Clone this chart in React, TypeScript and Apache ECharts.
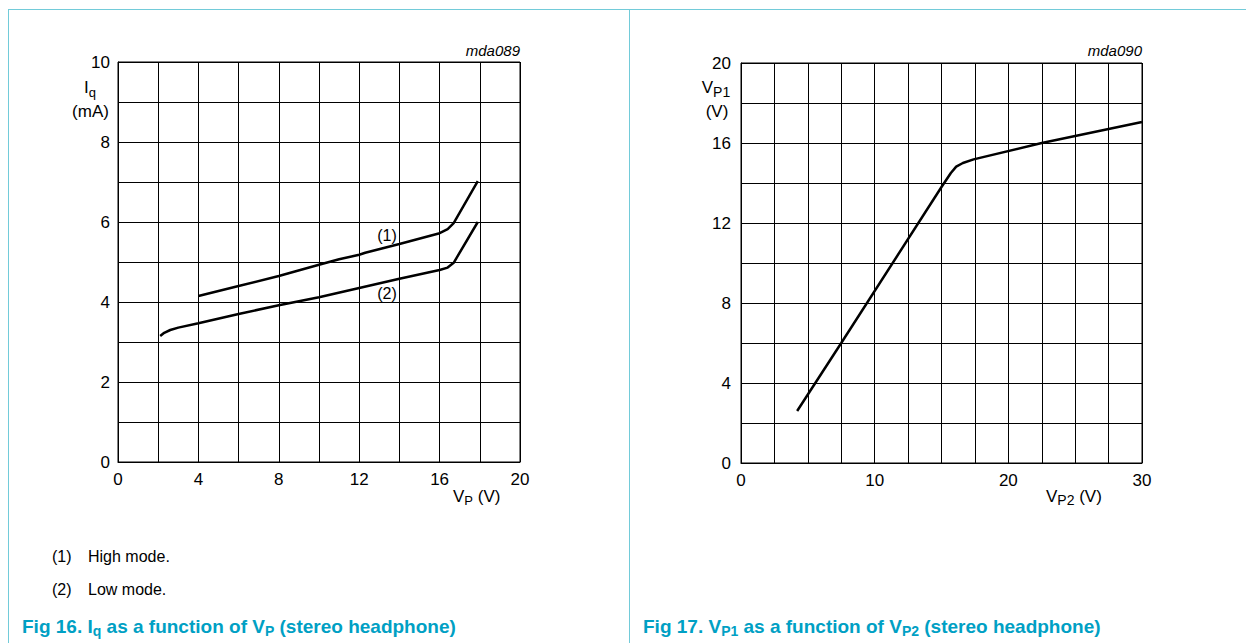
import React, { useEffect, useRef } from "react";
import * as echarts from "echarts";

// ---------- data ----------
const highModeVP = [4, 6, 8, 10, 11, 12, 12.3, 14, 16, 16.4, 16.7, 17.9];
const highModeIq = [4.15, 4.4, 4.65, 4.93, 5.07, 5.18, 5.23, 5.45, 5.72, 5.82, 5.97, 7.02];
const lowModeVP = [2.1, 2.3, 2.6, 3, 4, 6, 8, 10, 12, 14, 16, 16.4, 16.7, 17.9];
const lowModeIq = [3.15, 3.23, 3.3, 3.36, 3.47, 3.7, 3.92, 4.12, 4.35, 4.58, 4.8, 4.86, 4.98, 6.0];
const vp2Values = [4.2, 7.5, 15, 15.7, 16.1, 16.6, 17.4, 22.5, 30];
const vp1Values = [2.6, 6.0, 13.8, 14.5, 14.82, 15.0, 15.18, 16.0, 17.05];

const leftXTicks = [0, 4, 8, 12, 16, 20];
const leftYTicks = [0, 2, 4, 6, 8, 10];
const rightXTicks = [0, 10, 20, 30];
const rightYTicks = [0, 4, 8, 12, 16, 20];

const FONT = '"Liberation Sans", Arial, Helvetica, sans-serif';
const CAPTION_COLOR = "#00a0c4";
const BORDER_COLOR = "#72cbd9";

type Part = { t: string; sub?: boolean };

let measureCtx: CanvasRenderingContext2D | null = null;
function textWidth(t: string, size: number, weight = "normal", style = "normal") {
  if (!measureCtx) measureCtx = document.createElement("canvas").getContext("2d");
  if (!measureCtx) return t.length * size * 0.55;
  measureCtx.font = `${style} ${weight} ${size}px ${FONT}`;
  return measureCtx.measureText(t).width;
}

function seq(
  parts: Part[],
  x: number,
  y: number,
  o: { size: number; subSize: number; weight?: string; color?: string; subDy: number; align?: "left" | "center" }
) {
  const weight = o.weight || "normal";
  const widths = parts.map((p) => textWidth(p.t, p.sub ? o.subSize : o.size, weight));
  const total = widths.reduce((a, b) => a + b, 0);
  let cx = o.align === "center" ? x - total / 2 : x;
  const els: any[] = [];
  parts.forEach((p, i) => {
    els.push({
      type: "text",
      x: cx,
      y: p.sub ? y + o.subDy : y,
      style: {
        text: p.t,
        fontSize: p.sub ? o.subSize : o.size,
        fontFamily: FONT,
        fontWeight: weight,
        fill: o.color || "#000",
        align: "left",
        verticalAlign: "middle",
      },
    });
    cx += widths[i];
  });
  return els;
}

function plainText(t: string, x: number, y: number, size: number, align: string, extra: any = {}) {
  return {
    type: "text",
    x,
    y,
    style: { text: t, fontSize: size, fontFamily: FONT, fill: "#000", align, verticalAlign: "middle", ...extra },
  };
}

function axisCommon(ticks: number[], margin: number) {
  return {
    axisLine: { show: true, lineStyle: { color: "#000", width: 1 } },
    axisTick: { show: false },
    splitLine: { show: true, lineStyle: { color: "#000", width: 1 } },
    axisLabel: {
      color: "#000",
      fontSize: 17,
      fontFamily: FONT,
      margin,
      formatter: (v: number) => (ticks.includes(v) ? String(v) : ""),
    },
  };
}

export default function App() {
  const ref = useRef<HTMLDivElement>(null);
  useEffect(() => {
    if (!ref.current) return;
    const chart = echarts.init(ref.current, null, { renderer: "svg" });

    const graphics: any[] = [
      // panel borders
      { type: "line", shape: { x1: 8, y1: 9.5, x2: 1246, y2: 9.5 }, style: { stroke: BORDER_COLOR, lineWidth: 1 } },
      { type: "line", shape: { x1: 8.5, y1: 9, x2: 8.5, y2: 643 }, style: { stroke: BORDER_COLOR, lineWidth: 1 } },
      { type: "line", shape: { x1: 629.5, y1: 9, x2: 629.5, y2: 643 }, style: { stroke: BORDER_COLOR, lineWidth: 1 } },
      // figure codes
      plainText("mda089", 520, 50, 15, "right", { fontStyle: "italic" }),
      plainText("mda090", 1142, 50, 15, "right", { fontStyle: "italic" }),
      // left axis names
      ...seq([{ t: "I" }, { t: "q", sub: true }], 90, 87, { size: 17, subSize: 13, subDy: 5, align: "center" }),
      plainText("(mA)", 90.5, 111, 17, "center"),
      ...seq([{ t: "V" }, { t: "P", sub: true }, { t: " (V)" }], 453, 496, { size: 17, subSize: 13, subDy: 4 }),
      // right axis names
      ...seq([{ t: "V" }, { t: "P1", sub: true }], 716, 87, { size: 17, subSize: 14, subDy: 5, align: "center" }),
      plainText("(V)", 717, 111, 17, "center"),
      ...seq([{ t: "V" }, { t: "P2", sub: true }, { t: " (V)" }], 1046, 496, { size: 17, subSize: 14, subDy: 4 }),
      // curve labels
      plainText("(1)", 387, 235, 16, "center"),
      plainText("(2)", 387, 293, 16, "center"),
      // notes
      plainText("(1)", 52, 556, 16, "left"),
      plainText("High mode.", 88, 556, 16, "left"),
      plainText("(2)", 52, 589, 16, "left"),
      plainText("Low mode.", 88, 589, 16, "left"),
      // captions
      ...seq(
        [{ t: "Fig 16. I" }, { t: "q", sub: true }, { t: " as a function of V" }, { t: "P", sub: true }, { t: " (stereo headphone)" }],
        22,
        626,
        { size: 19, subSize: 14, subDy: 5, weight: "bold", color: CAPTION_COLOR }
      ),
      ...seq(
        [{ t: "Fig 17. V" }, { t: "P1", sub: true }, { t: " as a function of V" }, { t: "P2", sub: true }, { t: " (stereo headphone)" }],
        643,
        626,
        { size: 19, subSize: 14, subDy: 5, weight: "bold", color: CAPTION_COLOR }
      ),
    ];

    const lineStyle = { color: "#000", width: 2.5 };

    chart.setOption({
      animation: false,
      backgroundColor: "#fff",
      textStyle: { fontFamily: FONT },
      grid: [
        { left: 118, top: 62, width: 402, height: 400, show: true, borderColor: "#000", borderWidth: 1, backgroundColor: "transparent" },
        { left: 741, top: 63, width: 401, height: 400, show: true, borderColor: "#000", borderWidth: 1, backgroundColor: "transparent" },
      ],
      xAxis: [
        { type: "value", gridIndex: 0, min: 0, max: 20, interval: 2, ...axisCommon(leftXTicks, 9) },
        { type: "value", gridIndex: 1, min: 0, max: 30, interval: 2.5, ...axisCommon(rightXTicks, 9) },
      ],
      yAxis: [
        { type: "value", gridIndex: 0, min: 0, max: 10, interval: 1, ...axisCommon(leftYTicks, 8) },
        { type: "value", gridIndex: 1, min: 0, max: 20, interval: 2, ...axisCommon(rightYTicks, 10) },
      ],
      series: [
        {
          type: "line",
          xAxisIndex: 0,
          yAxisIndex: 0,
          data: highModeVP.map((v, i) => [v, highModeIq[i]]),
          symbol: "none",
          lineStyle,
          z: 5,
        },
        {
          type: "line",
          xAxisIndex: 0,
          yAxisIndex: 0,
          data: lowModeVP.map((v, i) => [v, lowModeIq[i]]),
          symbol: "none",
          lineStyle,
          z: 5,
        },
        {
          type: "line",
          xAxisIndex: 1,
          yAxisIndex: 1,
          data: vp2Values.map((v, i) => [v, vp1Values[i]]),
          symbol: "none",
          lineStyle,
          z: 5,
        },
      ],
      graphic: graphics,
    });

    return () => chart.dispose();
  }, []);

  return <div ref={ref} style={{ position: "fixed", left: 0, top: 0, width: 1246, height: 643 }} />;
}
